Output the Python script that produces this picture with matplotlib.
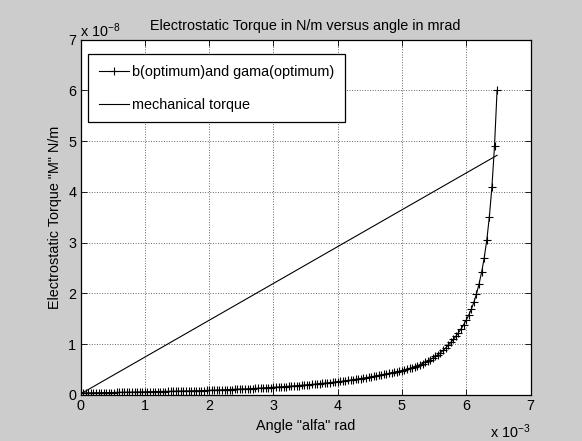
import matplotlib
matplotlib.use("Agg")
import matplotlib.pyplot as plt

plt.rcParams['font.family'] = ['Liberation Sans', 'DejaVu Sans']
plt.rcParams['mathtext.fontset'] = 'custom'
plt.rcParams['mathtext.rm'] = 'Liberation Sans'
plt.rcParams['mathtext.it'] = 'Liberation Sans'

# ---- data (angle in 1e-3 rad, torque in 1e-8 N/m) ----
angle_mrad = [
    0.00, 0.04, 0.08, 0.12, 0.16, 0.20, 0.24, 0.28, 0.32, 0.36, 0.40, 0.44, 0.48,
    0.52, 0.56, 0.60, 0.64, 0.68, 0.72, 0.76, 0.80, 0.84, 0.88, 0.92, 0.96,
    1.00, 1.04, 1.08, 1.12, 1.16, 1.20, 1.24, 1.28, 1.32, 1.36, 1.40, 1.44, 1.48,
    1.52, 1.56, 1.60, 1.64, 1.68, 1.72, 1.76, 1.80, 1.84, 1.88, 1.92, 1.96,
    2.00, 2.04, 2.08, 2.12, 2.16, 2.20, 2.24, 2.28, 2.32, 2.36, 2.40, 2.44, 2.48,
    2.52, 2.56, 2.60, 2.64, 2.68, 2.72, 2.76, 2.80, 2.84, 2.88, 2.92, 2.96,
    3.00, 3.04, 3.08, 3.12, 3.16, 3.20, 3.24, 3.28, 3.32, 3.36, 3.40, 3.44, 3.48,
    3.52, 3.56, 3.60, 3.64, 3.68, 3.72, 3.76, 3.80, 3.84, 3.88, 3.92, 3.96,
    4.00, 4.04, 4.08, 4.12, 4.16, 4.20, 4.24, 4.28, 4.32, 4.36, 4.40, 4.44, 4.48,
    4.52, 4.56, 4.60, 4.64, 4.68, 4.72, 4.76, 4.80, 4.84, 4.88, 4.92, 4.96,
    5.00, 5.04, 5.08, 5.12, 5.16, 5.20, 5.24, 5.28, 5.32, 5.36, 5.40, 5.44, 5.48,
    5.52, 5.56, 5.60, 5.64, 5.68, 5.72, 5.76, 5.80, 5.84, 5.88, 5.92, 5.96,
    6.00, 6.04, 6.08, 6.12, 6.16, 6.20, 6.24, 6.28, 6.32, 6.36, 6.40, 6.44, 6.48,
]
torque_opt = [
    0.040, 0.041, 0.041, 0.042, 0.043, 0.043, 0.044, 0.045, 0.046, 0.046, 0.047, 0.048, 0.049,
    0.049, 0.050, 0.051, 0.052, 0.053, 0.054, 0.054, 0.055, 0.056, 0.057, 0.058, 0.059,
    0.060, 0.061, 0.062, 0.063, 0.064, 0.065, 0.066, 0.067, 0.068, 0.069, 0.071, 0.072, 0.073,
    0.074, 0.075, 0.077, 0.078, 0.079, 0.080, 0.082, 0.083, 0.084, 0.086, 0.087, 0.089,
    0.090, 0.092, 0.094, 0.096, 0.098, 0.100, 0.102, 0.104, 0.106, 0.108, 0.110, 0.113, 0.115,
    0.117, 0.120, 0.122, 0.125, 0.127, 0.130, 0.133, 0.135, 0.138, 0.141, 0.144, 0.147,
    0.150, 0.153, 0.157, 0.160, 0.164, 0.167, 0.171, 0.175, 0.179, 0.183, 0.187, 0.191, 0.195,
    0.200, 0.204, 0.209, 0.213, 0.218, 0.223, 0.228, 0.233, 0.238, 0.243, 0.249, 0.254,
    0.260, 0.266, 0.273, 0.280, 0.287, 0.294, 0.301, 0.309, 0.316, 0.324, 0.332, 0.341, 0.349,
    0.358, 0.366, 0.376, 0.385, 0.394, 0.404, 0.414, 0.424, 0.435, 0.446, 0.457, 0.468,
    0.480, 0.493, 0.508, 0.523, 0.540, 0.558, 0.577, 0.598, 0.620, 0.644, 0.670, 0.697, 0.727,
    0.759, 0.794, 0.833, 0.877, 0.925, 0.978, 1.036, 1.094, 1.158, 1.227, 1.303, 1.385,
    1.475, 1.574, 1.690, 1.830, 1.990, 2.190, 2.420, 2.700, 3.050, 3.510, 4.100, 4.900, 6.000,
]
mech_angle_mrad = [0.00, 6.48]
mech_torque = [0.02, 4.72]

x_ticks = [0, 1, 2, 3, 4, 5, 6, 7]
y_ticks = [0, 1, 2, 3, 4, 5, 6, 7]

title = 'Electrostatic Torque in N/m versus angle in mrad'
xlabel = 'Angle "alfa" rad'
ylabel = 'Electrostatic Torque "M" N/m'
label_opt = 'b(optimum)and gama(optimum)'
label_mech = 'mechanical torque'

FS = 10.4

# ---- figure ----
W, H = 582, 441
fig = plt.figure(figsize=(W / 100, H / 100), dpi=100, facecolor='#cccccc')
L, R, T, B = 80.5, 530.5, 39.5, 395.0
ax = fig.add_axes([L / W, 1 - B / H, (R - L) / W, (B - T) / H])
ax.set_facecolor('white')

ax.plot(angle_mrad, torque_opt, color='k', lw=0.8, marker='+', ms=5.5, mew=0.8,
        label=label_opt)
ax.plot(mech_angle_mrad, mech_torque, color='k', lw=0.8, label=label_mech)

ax.set_xlim(0, 7)
ax.set_ylim(0, 7)
ax.set_xticks(x_ticks)
ax.set_yticks(y_ticks)
ax.grid(True, ls=':', color='0.4', lw=0.7)
ax.tick_params(direction='in', top=True, right=True, length=4, width=0.6,
               labelsize=FS, colors='k', pad=3)
for s in ax.spines.values():
    s.set_linewidth(0.9)
    s.set_color('k')

ax.text(0.5, (B - 26) / (B - T), title, transform=ax.transAxes, ha='center',
        va='center', fontsize=FS)
ax.set_xlabel(xlabel, fontsize=FS)
ax.xaxis.set_label_coords(0.5, (B - 426) / (B - T))
ax.xaxis.label.set_va('center')
ax.set_ylabel(ylabel, fontsize=FS)
ax.yaxis.set_label_coords((55 - L) / (R - L), 0.5)
ax.yaxis.label.set_va('center')

ax.text(0.0, (B - 31) / (B - T), r'x 10$^{-8}$', transform=ax.transAxes,
        ha='left', va='center', fontsize=FS)
ax.text(1.0, (B - 432) / (B - T), r'x 10$^{-3}$', transform=ax.transAxes,
        ha='right', va='center', fontsize=FS)

leg = ax.legend(loc='upper left', bbox_to_anchor=((88 - L) / (R - L), (B - 54) / (B - T)),
                borderaxespad=0, fontsize=FS, handlelength=2.1, handletextpad=0.2,
                labelspacing=1.3, borderpad=0.75, fancybox=False, framealpha=1,
                edgecolor='k')
leg.get_frame().set_linewidth(0.9)

fig.savefig('out.png', dpi=100, facecolor=fig.get_facecolor())
